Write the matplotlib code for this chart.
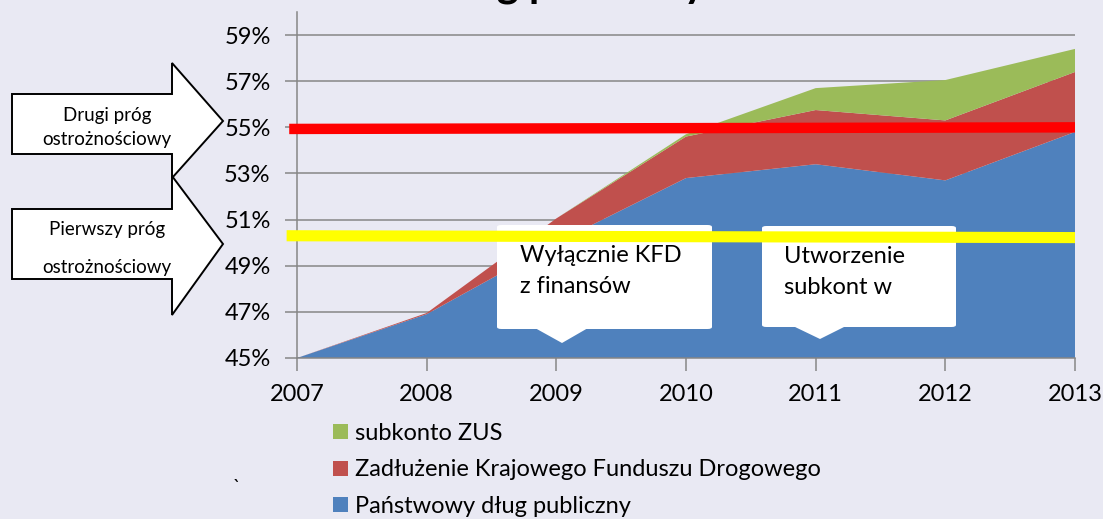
import matplotlib
matplotlib.use("Agg")
import matplotlib.pyplot as plt
from matplotlib.patches import Polygon, FancyBboxPatch, Patch

# dane (% PKB)
years = [2007, 2008, 2009, 2010, 2011, 2012, 2013]
dlug_panstwowy = [45.0, 46.9, 50.0, 52.8, 53.4, 52.7, 54.8]
kfd = [0.0, 0.05, 1.05, 1.8, 2.35, 2.6, 2.6]
subkonto_zus = [0.0, 0.0, 0.0, 0.1, 0.95, 1.75, 1.0]

labels = ["Państwowy dług publiczny",
          "Zadłużenie Krajowego Funduszu Drogowego",
          "subkonto ZUS"]
colors = ["#4F81BD", "#C0504D", "#9BBB59"]

yticks = [45, 47, 49, 51, 53, 55, 57, 59]
prog_drugi = [54.93, 55.0]
prog_pierwszy = [50.3, 50.22]

W, H = 1103, 519
BG = "#E9E9F3"
FONT = ["Lato", "DejaVu Sans"]
plt.rcParams["font.family"] = FONT


def px(x, y):
    # piksele obrazka -> ułamek figury
    return (x / W, 1 - y / H)


fig = plt.figure(figsize=(W / 100, H / 100), dpi=100, facecolor=BG)
ax = fig.add_axes([297 / W, 1 - 358 / H, (1075 - 297) / W, (358 - 12) / H])
ax.set_facecolor(BG)

ax.stackplot(years, dlug_panstwowy, kfd, subkonto_zus, colors=colors, zorder=2)

ax.set_xlim(years[0], years[-1])
ax.set_ylim(45, 60)
ax.set_yticks(yticks)
ax.set_yticklabels([f"{t}%" for t in yticks])
ax.set_xticks(years)
ax.grid(axis="y", color="#868686", linewidth=1.1, zorder=1)
ax.set_axisbelow(True)
for s in ["top", "right"]:
    ax.spines[s].set_visible(False)
for s in ["left", "bottom"]:
    ax.spines[s].set_color("#868686")
    ax.spines[s].set_linewidth(1.1)
ax.tick_params(axis="both", colors="#868686", length=9, width=1.1, labelsize=17,
               labelcolor="black")
ax.tick_params(axis="x", pad=10)
ax.tick_params(axis="y", pad=10)

# dymki (callouts)
def callout(x0, y0, x1, y1, tip, text, tx):
    bx, by = px(x0, y1)
    ex, ey = px(x1, y0)
    box = FancyBboxPatch((bx, by), ex - bx, ey - by,
                         boxstyle="round,pad=0,rounding_size=0.004",
                         transform=fig.transFigure, facecolor="white",
                         edgecolor="none", zorder=3, clip_on=False)
    ax.add_patch(box)
    cx = tip[0]
    tri = Polygon([px(cx - 27, y1 - 1), px(cx + 26, y1 - 1), px(*tip)],
                  closed=True, transform=fig.transFigure, facecolor="white",
                  edgecolor="none", zorder=3, clip_on=False)
    ax.add_patch(tri)
    fig.text(*px(tx, y0 + 20), text, fontsize=17, va="top", ha="left",
             linespacing=1.6, zorder=5)


callout(497, 225, 712, 329, (562, 343), "Wyłącznie KFD\nz finansów", 520)
callout(762, 226, 956, 327, (820, 339), "Utworzenie\nsubkont w", 784)

# progi ostrożnościowe
ax.plot([years[0] - 0.06, years[-1]], prog_drugi, color="#FF0000", linewidth=7.5,
        solid_capstyle="butt", zorder=4, clip_on=False)
ax.plot([years[0] - 0.08, years[-1]], prog_pierwszy, color="#FFFF00", linewidth=8,
        solid_capstyle="butt", zorder=4, clip_on=False)

# strzałki po lewej
def block_arrow(x0, x1, body, head, tip, lines, ys):
    pts = [(x0, body[0]), (x1, body[0]), (x1, head[0]), tip,
           (x1, head[1]), (x1, body[1]), (x0, body[1])]
    fig.patches.append(Polygon([px(*p) for p in pts], closed=True,
                               transform=fig.transFigure, facecolor="white",
                               edgecolor="black", linewidth=1.4))
    for t, y in zip(lines, ys):
        fig.text(*px(107, y), t, fontsize=13.5, ha="center", va="center")


block_arrow(12, 172, (94, 154), (63, 178), (223, 121),
            ["Drugi próg", "ostrożnościowy"], [115, 140])
block_arrow(12, 172, (209, 279), (176, 315), (223, 244),
            ["Pierwszy próg", "ostrożnościowy"], [229, 267])

# legenda
handles = [Patch(facecolor=c) for c in colors][::-1]
fig.legend(handles, labels[::-1], loc="upper left",
           bbox_to_anchor=px(333, 423), frameon=False, fontsize=17,
           handlelength=0.64, handleheight=0.6, handletextpad=0.3,
           labelspacing=0.65, borderpad=0, borderaxespad=0)

fig.text(*px(237, 487), "`", fontsize=14, ha="center", va="center")

# tytuł - ucięty u góry, jak w oryginale
fig.text(*px(567, -3), "Dług publiczny", fontsize=30, fontweight="bold",
         ha="center", va="baseline")

fig.savefig("out.png", dpi=100, facecolor=BG)
